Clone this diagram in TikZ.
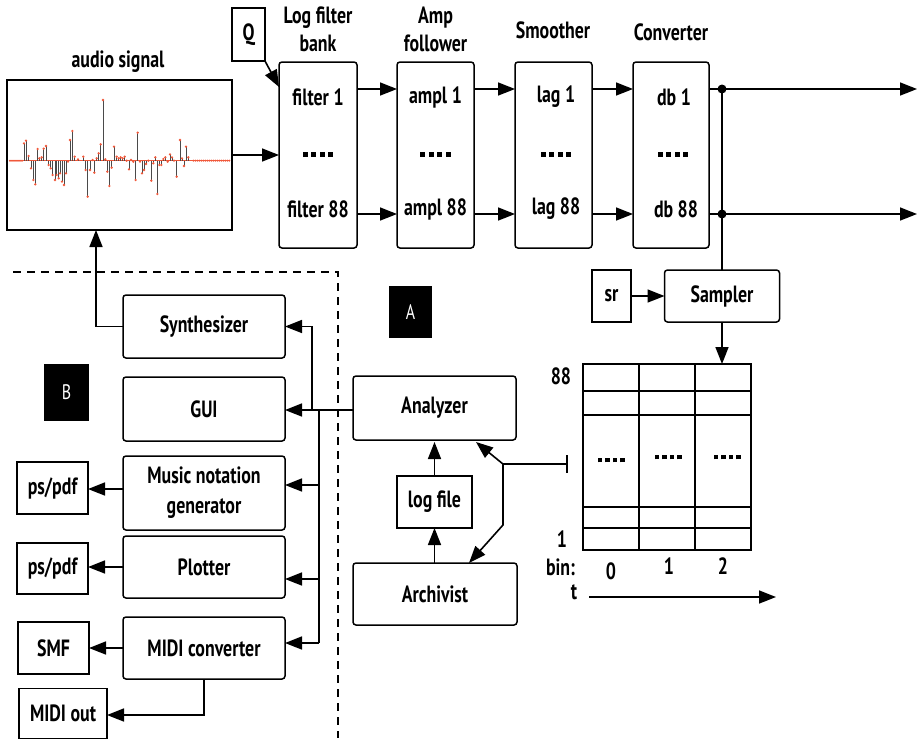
\documentclass[tikz,border=0pt]{standalone}
\usepackage{fontspec}
\setmainfont{PT Sans}[FakeStretch=0.76]
\usetikzlibrary{arrows.meta,calc}
\definecolor{stemgray}{HTML}{4A4A4A}
\definecolor{dotred}{HTML}{F0583A}
\newcommand\bigdots{\rule{5pt}{5pt}\hspace{3.5pt}\rule{5pt}{5pt}\hspace{3.5pt}\rule{5pt}{5pt}\hspace{3.5pt}\rule{5pt}{5pt}}
\newcommand\smalldots{\rule{4.5pt}{4.5pt}\hspace{3pt}\rule{4.5pt}{4.5pt}\hspace{3pt}\rule{4.5pt}{4.5pt}\hspace{3pt}\rule{4.5pt}{4.5pt}}
\begin{document}
\begin{tikzpicture}[x=1pt,y=-1pt,
  every node/.style={inner sep=0pt, outer sep=0pt},
  txt/.style={font=\bfseries\fontsize{23.5}{28}\selectfont},
  rbox/.style={draw, line width=1.5pt, rounded corners=3pt, txt},
  sbox/.style={draw, line width=1.5pt, txt},
  conn/.style={line width=1.6pt},
  tip/.tip={Triangle[length=17pt,width=13pt]},
  arr/.style={conn, -tip},
  gridline/.style={line width=1.4pt},
  dashline/.style={line width=1.5pt, dash pattern=on 8pt off 6pt},
  blk/.style={fill=black, text=white, font=\fontsize{21}{22}\selectfont},
  jdot/.style={circle, fill=black, minimum size=9pt}
]
\useasboundingbox (0,0) rectangle (918,740);

% ---------- audio signal ----------
\node[txt] (audiot) at (118,62) {audio signal};
\node[draw, line width=1.5pt, minimum width=225pt, minimum height=150pt] (audio) at (119.5,155) {};
\draw[dotred, line width=0.8pt] (9,160.67) -- (230,160.67);
\foreach \a in {30,36,42,48,54,60,66,580,586,592,598,604,610,616,622,628,634,640,646,652,658,664,670,676,682,688}
  \fill[dotred] ({\a/3},{40+362/3}) circle (1.1pt);
\foreach \a/\b in {72/310,78/302,86/348,93/385,100/420,106/433,113/327,118/355,125/352,131/326,138/318,146/375,152/385,158/405,165/420,170/405,176/415,180/400,186/425,192/435,198/400,204/365,210/300,217/273,224/350,234/358,250/350,257/390,263/470,270/390,278/360,283/398,290/355,296/340,302/313,309/180,316/358,322/395,328/438,335/383,342/320,350/350,356/355,362/352,368/355,374/350,380/362,387/388,393/360,400/365,407/420,413/278,420/365,426/400,432/390,438/372,445/362,454/422,460/370,466/352,472/462,478/375,484/375,490/357,496/352,503/365,510/343,516/352,522/362,530/410,540/300,546/355,552/378,558/320,565/352}
{
  \draw[stemgray, line width=1pt] ({\a/3},{40+362/3}) -- ({\a/3},{40+\b/3});
  \fill[dotred] ({\a/3},{40+\b/3}) circle (1.3pt);
}

% ---------- Q ----------
\node[sbox, minimum width=33pt, minimum height=53pt] (Q) at (248.5,34.5) {Q};

% ---------- titles ----------
\node[txt, align=center] (t1) at (318,29) {Log filter\\bank};
\node[txt, align=center] (t2) at (435.5,29) {Amp\\follower};
\node[txt] (t3) at (553,30) {Smoother};
\node[txt] (t4) at (671,32) {Converter};

% ---------- chain boxes ----------
\node[rbox, minimum width=78pt, minimum height=186pt] (filt) at (318,155) {};
\node[rbox, minimum width=77pt, minimum height=186pt] (amp) at (435.5,155) {};
\node[rbox, minimum width=77pt, minimum height=186pt] (smo) at (553.5,155) {};
\node[rbox, minimum width=76pt, minimum height=186pt] (conv) at (671,155) {};

\node[txt] (f1) at (318,97) {filter 1};
\node (f2) at (318,154) {\bigdots};
\node[txt] (f3) at (318,209) {filter 88};
\node[txt] (a1) at (435.5,97) {ampl 1};
\node (a2) at (435.5,154) {\bigdots};
\node[txt] (a3) at (435.5,209) {ampl 88};
\node[txt] (l1) at (556,97) {lag 1};
\node (l2) at (556,154) {\bigdots};
\node[txt] (l3) at (556,209) {lag 88};
\node[txt] (d1) at (674,97) {db 1};
\node (d2) at (673,154) {\bigdots};
\node[txt] (d3) at (676,209) {db 88};

\coordinate (rowA) at (0,89);
\coordinate (rowB) at (0,214);
\draw[arr] (audio.east) -- (filt.west |- audio.east);
\draw[arr] (Q.south east) -- ($(filt.north west)+(0,25)$);
\draw[arr] (filt.east |- rowA) -- (amp.west |- rowA);
\draw[arr] (filt.east |- rowB) -- (amp.west |- rowB);
\draw[arr] (amp.east |- rowA) -- (smo.west |- rowA);
\draw[arr] (amp.east |- rowB) -- (smo.west |- rowB);
\draw[arr] (smo.east |- rowA) -- (conv.west |- rowA);
\draw[arr] (smo.east |- rowB) -- (conv.west |- rowB);

\node[jdot] (j1) at (722,89) {};
\node[jdot] (j2) at (722,214) {};
\coordinate (out1) at (917,89);
\coordinate (out2) at (917,214);
\draw[conn] (conv.east |- j1) -- (j1.center);
\draw[conn] (conv.east |- j2) -- (j2.center);
\draw[arr] (j1.center) -- (out1);
\draw[arr] (j2.center) -- (out2);

% ---------- sampler ----------
\node[sbox, minimum width=39pt, minimum height=52pt] (sr) at (611.5,296) {sr};
\node[rbox, minimum width=115pt, minimum height=52pt] (sampler) at (722,296) {Sampler};
\draw[conn] (j1.center) -- (sampler.north);
\draw[arr] (sr.east) -- (sampler.west);

% ---------- grid ----------
\node[draw, line width=1.4pt, minimum width=168pt, minimum height=186pt] (grid) at (667,457) {};
\draw[arr] (sampler.south) -- (sampler.south |- grid.north);
\draw[gridline] (639,364) -- (639,550);
\draw[gridline] (695,364) -- (695,550);
\foreach \yy in {391,415,507,528}
  \draw[gridline] (583,\yy) -- (751,\yy);
\node (g1) at (611,460) {\smalldots};
\node (g2) at (668,457) {\smalldots};
\node (g3) at (727,457) {\smalldots};
\node[txt, anchor=east] (n88) at (571,376) {88};
\node[txt, anchor=east] (n1) at (567,539) {1};
\node[txt, anchor=east] (nbin) at (575,567) {bin:};
\node[txt] (b0) at (611,571) {0};
\node[txt] (b1) at (669,566) {1};
\node[txt] (b2) at (723,566) {2};
\node[txt] (nt) at (574,592) {t};
\coordinate (ts) at (589,597);
\coordinate (te) at (776,597);
\draw[arr] (ts) -- (te);

% ---------- A side ----------
\node[blk, minimum width=43pt, minimum height=52pt] (Abox) at (410.5,312) {A};
\node[rbox, minimum width=163pt, minimum height=64pt] (analyzer) at (434.5,408) {Analyzer};
\node[sbox, minimum width=75pt, minimum height=52pt] (logf) at (434.5,502) {log file};
\node[rbox, minimum width=164pt, minimum height=62pt] (archivist) at (435,594) {Archivist};
\draw[arr] (logf.north) -- (logf.north |- 0,442);
\draw[arr] (archivist.north -| logf.south) -- (logf.south);
\coordinate (anatip) at (476,442);
\coordinate (lj) at (503,464);
\coordinate (lj2) at (503,525);
\coordinate (archtip) at (469,563);
\coordinate (barend) at (568,464);
\draw[conn, tip-tip] (anatip) -- (lj) -- (lj2) -- (archtip);
\draw[conn, -{Bar[width=18pt]}] (lj) -- (barend);

% ---------- dashed border ----------
\coordinate (dA) at (13,272);
\coordinate (dB) at (338,272);
\coordinate (dC) at (338,738);
\draw[dashline] (dA) -- (dB) -- (dC);

% ---------- B side ----------
\node[blk, minimum width=45pt, minimum height=57pt] (Bbox) at (66.5,392.5) {B};
\node[rbox, minimum width=162pt, minimum height=63pt] (synth) at (204,326.5) {Synthesizer};
\node[rbox, minimum width=162pt, minimum height=64pt] (gui) at (204,409) {GUI};
\node[rbox, minimum width=162pt, minimum height=74pt, align=center, font=\bfseries\fontsize{23.5}{30}\selectfont] (music) at (204,493) {Music notation\\generator};
\node[rbox, minimum width=162pt, minimum height=62pt] (plotter) at (204,567) {Plotter};
\node[rbox, minimum width=162pt, minimum height=62pt] (midi) at (204,648) {MIDI converter};

\node[sbox, minimum width=71pt, minimum height=52pt] (ps1) at (52.5,488) {ps/pdf};
\node[sbox, minimum width=71pt, minimum height=51pt] (ps2) at (52.5,568.5) {ps/pdf};
\node[sbox, minimum width=71pt, minimum height=52pt] (smf) at (53.5,648) {SMF};
\node[sbox, minimum width=88pt, minimum height=50pt] (mout) at (63,713.5) {MIDI out};

\coordinate (sa) at (96,230);
\draw[arr] (synth.west) -| (sa);

\coordinate (busA) at (312,410);
\coordinate (busB) at (319,410);
\draw[arr] (analyzer.west |- busA) -- (gui.east |- busA);
\draw[arr] (busA) |- (synth.east);
\draw[conn] (busB) -- (319,643);
\draw[arr] (319,485) -- (music.east |- 0,485);
\draw[arr] (319,579) -- (plotter.east |- 0,579);
\draw[arr] (319,643) -- (midi.east |- 0,643);

\draw[arr] (music.west |- 0,489) -- (ps1.east |- 0,489);
\draw[arr] (plotter.west) -- (ps2.east |- plotter.west);
\draw[arr] (midi.west) -- (smf.east);
\draw[arr] (midi.south) |- (mout.east |- 0,715);
\end{tikzpicture}
\end{document}
